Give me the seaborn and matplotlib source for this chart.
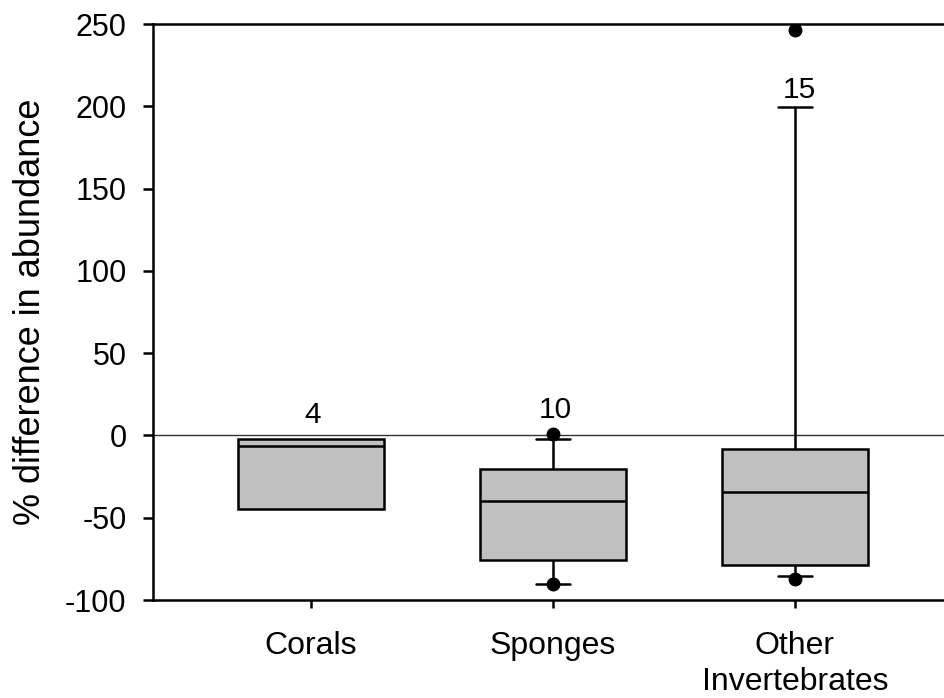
import numpy as np
import pandas as pd
import matplotlib
matplotlib.use("Agg")
import matplotlib.pyplot as plt
import matplotlib.cbook as cbook
import seaborn as sns

# Groups and their individual % differences in abundance
categories = ["Corals", "Sponges", "Other Invertebrates"]
tick_labels = ["Corals", "Sponges", "Other\nInvertebrates"]
corals = [-148.0, -10.0, -3.0, 1.0]
sponges = [-90.3, -90.0, -77.0, -71.0, -48.0, -31.6, -23.0, -19.4, -2.0, 1.0]
other_inverts = [-87.2, -85.6, -82.0, -80.1, -77.3, -64.0, -48.5, -34.3,
                 -27.0, -18.2, -12.6, -4.0, 35.0, 199.4, 246.5]
sample_sizes = [4, 10, 15]
y_ticks = [-100, -50, 0, 50, 100, 150, 200, 250]

sns.set_theme(style="ticks")
plt.rcParams["font.family"] = ["Liberation Sans", "DejaVu Sans"]
plt.rcParams["axes.unicode_minus"] = False

groups = [corals, sponges, other_inverts]
df = pd.DataFrame({
    "group": np.repeat(categories, [len(g) for g in groups]),
    "value": np.concatenate(groups),
})

fig = plt.figure(figsize=(9.45, 6.98), dpi=100)
ax = fig.add_axes([153 / 945, 1 - 600 / 698, 1 - 153 / 945, 576 / 698])

ax.axhline(0, color="#333333", lw=1.0, zorder=0.5)

lw = 1.8
common = dict(x="group", y="value", order=categories, width=0.6,
              color="#c0c0c0", saturation=1, linecolor="black",
              linewidth=lw, ax=ax)

# Small group: box only, no whiskers
sns.boxplot(data=df[df.group == "Corals"], whis=0, showfliers=False,
            capprops={"visible": False}, whiskerprops={"visible": False},
            **common)
# Larger groups: 5th/95th percentile whiskers with outlying points
whis_pct = (5, 95)
sns.boxplot(data=df[df.group != "Corals"], whis=whis_pct, fliersize=9,
            capwidths=0.14,
            flierprops=dict(marker="o", markerfacecolor="black",
                            markeredgecolor="black"),
            **common)

ax.set_xlim(-0.653, 2.62)
ax.set_ylim(-100, 250)
ax.set_yticks(y_ticks)
ax.set_yticklabels([str(t) for t in y_ticks])
ax.set_xticks(range(len(categories)))
ax.set_xticklabels(tick_labels, linespacing=1.25)
ax.set_xlabel("")
ax.set_ylabel("% difference in abundance", fontsize=26, labelpad=12,
              color="black")

for side in ["top", "left", "bottom"]:
    ax.spines[side].set_linewidth(lw)
    ax.spines[side].set_color("black")
ax.spines["right"].set_visible(False)

ax.tick_params(axis="y", length=7, width=lw, pad=12, labelsize=22,
               color="black", labelcolor="black")
ax.tick_params(axis="x", length=6, width=lw, pad=16.5, labelsize=23,
               color="black", labelcolor="black")

# Sample sizes above each group's upper whisker
whis_settings = [0, whis_pct, whis_pct]
offsets = [(1.5, 11.5), (2.0, 15.0), (3.0, 6.5)]
for i, (vals, n, w, off) in enumerate(zip(groups, sample_sizes,
                                           whis_settings, offsets)):
    top = cbook.boxplot_stats(np.asarray(vals), whis=w)[0]["whishi"]
    ax.annotate(str(n), (i, top), xytext=off, textcoords="offset points",
                ha="center", va="baseline", fontsize=21.5, color="black")

fig.savefig("out.png", dpi=100)
